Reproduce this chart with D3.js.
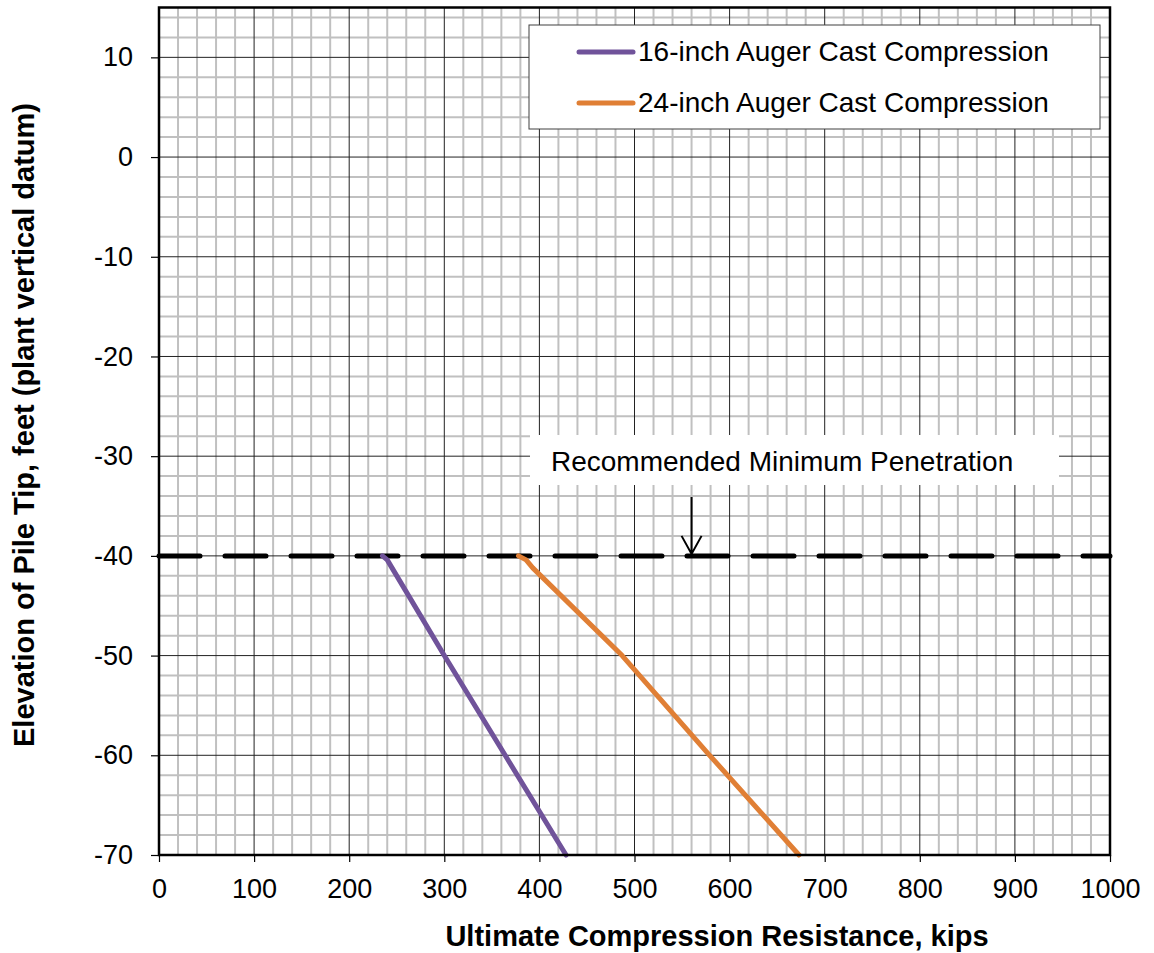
<!DOCTYPE html>
<html>
<head>
<meta charset="utf-8">
<script src="https://cdn.jsdelivr.net/npm/d3@7"></script>
<style>
  body { margin: 0; background: #fff; }
  text { font-family: "Liberation Sans", Arial, sans-serif; fill: #000; }
</style>
</head>
<body>
<div id="plot"></div>
<script>
var w = 1154;
var h = 953;

// series: resistance (kips) vs tip elevation (ft)
var kips16 = [235, 240, 245, 300, 364, 428];
var elev16 = [-40, -40.4, -41.2, -50, -60, -70];
var kips24 = [378, 386, 393, 487, 579, 673];
var elev24 = [-40, -40.4, -41.2, -50, -60, -70];

var seriesNames = ["16-inch Auger Cast Compression", "24-inch Auger Cast Compression"];
var seriesColors = ["#70539a", "#e07f35"];

var minPenElev = -40;
var minPenLabel = "Recommended Minimum Penetration";
var minPenArrowX = 560;

var xTicks = [0, 100, 200, 300, 400, 500, 600, 700, 800, 900, 1000];
var yTicks = [-70, -60, -50, -40, -30, -20, -10, 0, 10];

var xScale = d3.scaleLinear().domain([0, 1000]).range([159, 1110]);
var yScale = d3.scaleLinear().domain([-70, 15]).range([855, 7.5]);

var svg = d3.select("#plot")
            .append("svg")
            .attr("width", w)
            .attr("height", h);

// minor grid
svg.append("g")
   .selectAll("line")
   .data(d3.range(20, 1000, 20).filter(function(d) { return d % 100 !== 0; }))
   .enter()
   .append("line")
   .attr("x1", function(d) { return xScale(d); })
   .attr("x2", function(d) { return xScale(d); })
   .attr("y1", yScale(15))
   .attr("y2", yScale(-70))
   .attr("stroke", "#c0c0c0")
   .attr("stroke-width", 2);

svg.append("g")
   .selectAll("line")
   .data(d3.range(-68, 15, 2).filter(function(d) { return d % 10 !== 0; }))
   .enter()
   .append("line")
   .attr("x1", xScale(0))
   .attr("x2", xScale(1000))
   .attr("y1", function(d) { return yScale(d); })
   .attr("y2", function(d) { return yScale(d); })
   .attr("stroke", "#c0c0c0")
   .attr("stroke-width", 2);

// major grid
svg.append("g")
   .selectAll("line")
   .data(xTicks)
   .enter()
   .append("line")
   .attr("x1", function(d) { return xScale(d); })
   .attr("x2", function(d) { return xScale(d); })
   .attr("y1", yScale(15))
   .attr("y2", yScale(-70))
   .attr("stroke", "#222")
   .attr("stroke-width", 1);

svg.append("g")
   .selectAll("line")
   .data(yTicks)
   .enter()
   .append("line")
   .attr("x1", xScale(0))
   .attr("x2", xScale(1000))
   .attr("y1", function(d) { return yScale(d); })
   .attr("y2", function(d) { return yScale(d); })
   .attr("stroke", "#222")
   .attr("stroke-width", 1);

// minimum penetration dashed line
var line = d3.line()
             .x(function(d) { return xScale(d[0]); })
             .y(function(d) { return yScale(d[1]); });

svg.append("path")
   .attr("d", line([[0, minPenElev], [1000, minPenElev]]))
   .attr("fill", "none")
   .attr("stroke", "#000")
   .attr("stroke-width", 5)
   .attr("stroke-linecap", "round")
   .attr("stroke-dasharray", "41,25");

// series
var series = [d3.zip(kips16, elev16), d3.zip(kips24, elev24)];

svg.selectAll("path.series")
   .data(series)
   .enter()
   .append("path")
   .attr("class", "series")
   .attr("d", line)
   .attr("fill", "none")
   .attr("stroke", function(d, i) { return seriesColors[i]; })
   .attr("stroke-width", 5)
   .attr("stroke-linecap", "round")
   .attr("stroke-linejoin", "round");

// plot border
svg.append("rect")
   .attr("x", xScale(0))
   .attr("y", yScale(15))
   .attr("width", xScale(1000) - xScale(0))
   .attr("height", yScale(-70) - yScale(15))
   .attr("fill", "none")
   .attr("stroke", "#000")
   .attr("stroke-width", 2.5);

// axes
var xAxis = d3.axisBottom(xScale)
              .tickValues(xTicks)
              .tickSize(7)
              .tickPadding(17)
              .tickFormat(function(d) { return String(d); });
var yAxis = d3.axisLeft(yScale)
              .tickValues(yTicks)
              .tickSize(8)
              .tickPadding(18)
              .tickFormat(function(d) { return String(d); });

var gx = svg.append("g")
            .attr("transform", "translate(0," + yScale(-70) + ")")
            .call(xAxis);
var gy = svg.append("g")
            .attr("transform", "translate(" + xScale(0) + ",0)")
            .call(yAxis);

[gx, gy].forEach(function(g) {
  g.select(".domain").remove();
  g.selectAll(".tick line").attr("stroke", "#000").attr("stroke-width", 1.2);
  g.selectAll(".tick text")
   .attr("fill", "#000")
   .style("font-family", "'Liberation Sans', Arial, sans-serif")
   .style("font-size", "27px");
});

// axis titles
svg.append("text")
   .attr("x", 717)
   .attr("y", 946)
   .attr("text-anchor", "middle")
   .style("font-size", "29px")
   .style("font-weight", "bold")
   .text("Ultimate Compression Resistance, kips");

svg.append("text")
   .attr("transform", "translate(34,425) rotate(-90)")
   .attr("text-anchor", "middle")
   .style("font-size", "29px")
   .style("font-weight", "bold")
   .text("Elevation of Pile Tip, feet (plant vertical datum)");

// legend
var legend = svg.append("g");
legend.append("rect")
      .attr("x", 529)
      .attr("y", 25)
      .attr("width", 571)
      .attr("height", 104)
      .attr("fill", "#fff")
      .attr("stroke", "#404040")
      .attr("stroke-width", 1);

var items = legend.selectAll("g")
                  .data(seriesNames)
                  .enter()
                  .append("g")
                  .attr("transform", function(d, i) { return "translate(0," + (52 + i * 51) + ")"; });
items.append("line")
     .attr("x1", 579)
     .attr("x2", 633)
     .attr("stroke", function(d, i) { return seriesColors[i]; })
     .attr("stroke-width", 5)
     .attr("stroke-linecap", "round");
items.append("text")
     .attr("x", 638)
     .attr("y", 9)
     .style("font-size", "28px")
     .text(function(d) { return d; });

// annotation
svg.append("rect")
   .attr("x", 530)
   .attr("y", 435)
   .attr("width", 529)
   .attr("height", 50)
   .attr("fill", "#fff");

svg.append("text")
   .attr("x", 551)
   .attr("y", 471)
   .style("font-size", "28px")
   .text(minPenLabel);

var ax = xScale(minPenArrowX);
var ay = yScale(minPenElev) - 2;
svg.append("path")
   .attr("d", "M" + ax + "," + (ay - 57) + "V" + ay + "M" + (ax - 10) + "," + (ay - 18) + "L" + ax + "," + ay + "L" + (ax + 10) + "," + (ay - 18))
   .attr("fill", "none")
   .attr("stroke", "#000")
   .attr("stroke-width", 2);
</script>
</body>
</html>
